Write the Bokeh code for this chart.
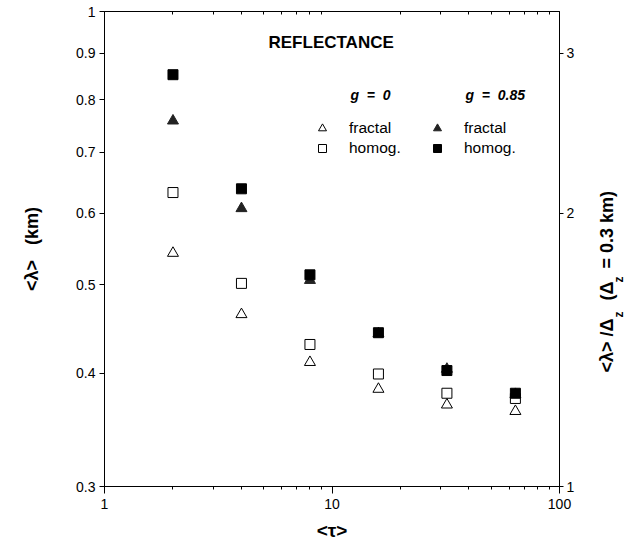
import math

from bokeh.plotting import figure
from bokeh.layouts import row
from bokeh.models import (FixedTicker, LogAxis, Range1d, LogScale, Label,
                          Legend, LegendItem)
from bokeh.embed import file_html
from bokeh.resources import INLINE

# optical depth <tau>
tau = [2, 4, 8, 16, 32, 64]

# mean photon horizontal transport <lambda> (km)
fractal_g0 = [0.542, 0.464, 0.411, 0.384, 0.369, 0.363]
homog_g0 = [0.632, 0.502, 0.430, 0.399, 0.380, 0.375]
fractal_g085 = [0.758, 0.607, 0.506, 0.442, 0.404, 0.379]
homog_g085 = [0.852, 0.638, 0.513, 0.443, 0.4025, 0.380]

# axis ticks
x_ticks = [1, 10, 100]
x_minor = [2, 3, 4, 5, 6, 7, 8, 9, 20, 30, 40, 50, 60, 70, 80, 90]
y_ticks = [0.3, 0.4, 0.5, 0.6, 0.7, 0.8, 0.9, 1.0]
y_tick_labels = ["0.3", "0.4", "0.5", "0.6", "0.7", "0.8", "0.9", "1"]
dz = 0.3
ratio_ticks = [1, 2, 3]

FONT = "Liberation Sans"
NB = "\u00a0"  # non-breaking space keeps wide gaps in titles

p = figure(width=579, height=550, x_axis_type="log", y_axis_type="log",
           x_range=Range1d(1, 100), y_range=Range1d(0.3, 1.0),
           output_backend="svg", toolbar_location=None,
           min_border_left=104, min_border_right=20,
           min_border_top=11, min_border_bottom=64,
           background_fill_color="white", border_fill_color="white")
p.grid.visible = False
p.outline_line_color = "black"
p.outline_line_width = 1

# bottom axis
xa = p.xaxis[0]
xa.ticker = FixedTicker(ticks=x_ticks, minor_ticks=x_minor)
xa.major_label_overrides = {t: str(t) for t in x_ticks}
xa.major_tick_in = 0
xa.major_tick_out = 7
xa.minor_tick_in = 0
xa.minor_tick_out = 3
xa.major_label_standoff = 5
xa.major_label_text_font = FONT
xa.major_label_text_font_size = "14px"
xa.major_label_text_color = "black"
xa.axis_line_color = "black"
xa.axis_label = "<τ>"
xa.axis_label_text_font = FONT
xa.axis_label_text_font_size = "19px"
xa.axis_label_text_font_style = "bold"
xa.axis_label_text_color = "black"
xa.axis_label_standoff = 8

# left axis
ya = p.yaxis[0]
ya.ticker = FixedTicker(ticks=y_ticks, minor_ticks=[])
ya.major_label_overrides = dict(zip(y_ticks, y_tick_labels))
ya.major_tick_in = 0
ya.major_tick_out = 5
ya.major_label_standoff = 4
ya.major_label_text_font = FONT
ya.major_label_text_font_size = "14px"
ya.major_label_text_color = "black"
ya.axis_line_color = "black"
ya.axis_label = "<λ>" + NB * 3 + "(km)"
ya.axis_label_text_font = FONT
ya.axis_label_text_font_size = "18px"
ya.axis_label_text_font_style = "bold"
ya.axis_label_text_color = "black"
ya.axis_label_standoff = 31

# top axis: minor ticks only, pointing inward, labels hidden
top = LogAxis(ticker=FixedTicker(ticks=x_ticks, minor_ticks=x_minor),
              major_tick_in=0, major_tick_out=0,
              minor_tick_in=3, minor_tick_out=0,
              major_label_text_font_size="1px", major_label_text_alpha=0,
              major_label_standoff=0, axis_line_color="black")
p.add_layout(top, "above")

# right axis: <lambda>/dz
p.extra_y_ranges = {"ratio": Range1d(0.3 / dz, 1.0 / dz)}
p.extra_y_scales = {"ratio": LogScale()}
ra = LogAxis(y_range_name="ratio",
             ticker=FixedTicker(ticks=ratio_ticks, minor_ticks=[]),
             major_tick_in=0, major_tick_out=4, major_label_standoff=3,
             major_label_text_font=FONT, major_label_text_font_size="14px",
             major_label_text_color="black", axis_line_color="black")
ra.major_label_overrides = {t: str(t) for t in ratio_ticks}
p.add_layout(ra, "right")

# data markers
r_fg0 = p.scatter(tau, fractal_g0, marker="triangle", size=11,
                  fill_color=None, line_color="black", line_width=1)
r_hg0 = p.scatter(tau, homog_g0, marker="square", size=10,
                  fill_color=None, line_color="black", line_width=1)
r_fg1 = p.scatter(tau, fractal_g085, marker="triangle", size=11,
                  fill_color="#222222", line_color="#222222", line_width=1)
r_hg1 = p.scatter(tau, homog_g085, marker="square", size=10,
                  fill_color="black", line_color="black", line_width=1)

# legend: one column per asymmetry factor
def make_legend(items, x, y):
    return Legend(items=items, location=(x, y), orientation="vertical",
                  padding=0, margin=0, spacing=0,
                  glyph_width=20, glyph_height=20, label_height=20,
                  label_standoff=17, label_text_font=FONT,
                  label_text_font_size="15.5px", label_text_color="black",
                  border_line_color=None, background_fill_alpha=0)

p.add_layout(make_legend([LegendItem(label="fractal", renderers=[r_fg0]),
                          LegendItem(label="homog.", renderers=[r_hg0])],
                         208, 328))
p.add_layout(make_legend([LegendItem(label="fractal", renderers=[r_fg1]),
                          LegendItem(label="homog.", renderers=[r_hg1])],
                         323, 328))

def label(fig, text, x, y, size, style="normal", angle=0.0):
    fig.add_layout(Label(x=x, y=y, x_units="screen", y_units="screen",
                         text=text, text_font=FONT, text_font_size=size,
                         text_font_style=style, text_color="black",
                         text_align="left", text_baseline="middle",
                         angle=angle, angle_units="rad"))

label(p, "REFLECTANCE", 164, 444, "17px", "bold")
label(p, "g" + NB * 2 + "=" + NB * 2 + "0", 246, 392, "14px", "bold italic")
label(p, "g" + NB * 2 + "=" + NB * 2 + "0.85", 361, 392, "14px",
      "bold italic")

# right-hand title strip, written bottom to top with subscripts
side = figure(width=50, height=550, x_range=Range1d(0, 1),
              y_range=Range1d(0, 1), output_backend="svg",
              toolbar_location=None, x_axis_location=None,
              y_axis_location=None, min_border=0,
              outline_line_color=None, background_fill_color="white",
              border_fill_color="white")
side.grid.visible = False

up = math.pi / 2
label(side, "<λ> /Δ", 27, 114, "18px", "bold", up)
label(side, "z", 39, 169, "12px", "bold", up)
label(side, "(Δ", 27, 186, "18px", "bold", up)
label(side, "z", 39, 204, "12px", "bold", up)
label(side, "= 0.3 km)", 27, 218, "18px", "bold", up)

layout = row(p, side, spacing=0)
open("out.html", "w").write(file_html(layout, INLINE))
